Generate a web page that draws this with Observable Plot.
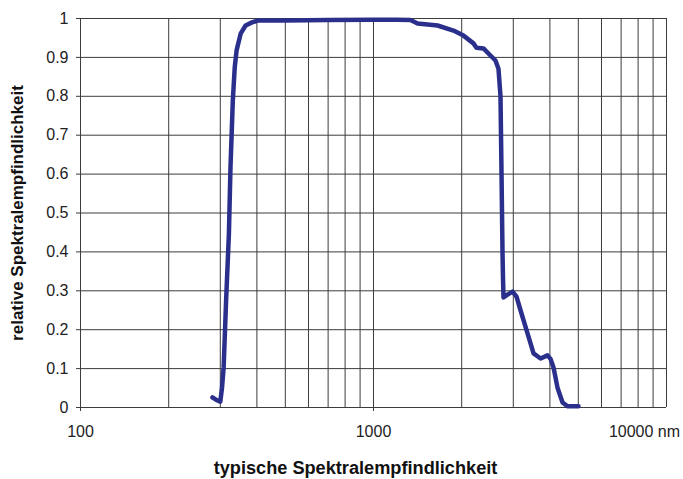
<!DOCTYPE html>
<html>
<head>
<meta charset="utf-8">
<script src="https://cdn.jsdelivr.net/npm/d3@7"></script>
<script src="https://cdn.jsdelivr.net/npm/@observablehq/plot@0.6"></script>
<style>
  html, body { margin: 0; padding: 0; background: #fff; }
  svg { display: block; }
</style>
</head>
<body>
<div id="chart"></div>
<script>
// Wavelength (nm) and relative spectral sensitivity
const wavelength = [282, 290, 300, 304, 308, 314, 321, 325, 331, 336, 341, 352, 366, 385, 405,
  500, 700, 1000, 1200, 1337, 1414, 1654, 1875, 2028, 2194, 2246, 2373, 2468, 2608, 2670,
  2713, 2735, 2756, 2767, 2778, 2866, 2982, 3077, 3175, 3357, 3517, 3718, 3925, 4020, 4115,
  4246, 4418, 4592, 5008];
const response = [0.026, 0.02, 0.015, 0.05, 0.103, 0.275, 0.447, 0.617, 0.789, 0.874, 0.918, 0.961, 0.982, 0.990, 0.995,
  0.995, 0.996, 0.997, 0.997, 0.996, 0.987, 0.982, 0.969, 0.956, 0.936, 0.925, 0.923, 0.91, 0.892, 0.871,
  0.80, 0.60, 0.40, 0.33, 0.283, 0.29, 0.298, 0.285, 0.25, 0.19, 0.139, 0.126, 0.134, 0.125, 0.103,
  0.051, 0.013, 0.003, 0.003];

const xGrid = [100, 200, 300, 400, 500, 600, 700, 800, 900,
  1000, 2000, 3000, 4000, 5000, 6000, 7000, 8000, 9000, 10000];
const xLabelTicks = [100, 1000];
const xLastTick = [10000];
const xLastLabel = "10000 nm";
const yTicks = [0, 0.1, 0.2, 0.3, 0.4, 0.5, 0.6, 0.7, 0.8, 0.9, 1];
const yTitle = "relative Spektralempfindlichkeit";
const xTitle = "typische Spektralempfindlichkeit";

const data = wavelength.map((w, i) => ({w, r: response[i]}));
const gridColor = "#3c3c3c";
const baseFont = "'Liberation Sans', Arial, sans-serif";

const chart = Plot.plot({
  width: 683,
  height: 479,
  marginLeft: 80,
  marginRight: 17,
  marginTop: 18,
  marginBottom: 72,
  style: {fontFamily: baseFont, fontSize: "16px", color: "#222", background: "#fff", overflow: "visible"},
  x: {type: "log", domain: [100, 10000]},
  y: {domain: [0, 1]},
  marks: [
    Plot.ruleX(xGrid, {stroke: gridColor, strokeWidth: 1}),
    Plot.ruleY(yTicks, {stroke: gridColor, strokeWidth: 1}),
    Plot.axisY({ticks: yTicks, tickSize: 4, tickPadding: 8, tickFormat: d => String(+d.toFixed(1)), label: null, stroke: gridColor}),
    Plot.axisX({ticks: xLabelTicks, tickSize: 4, tickPadding: 14, tickFormat: d => String(d), label: null, stroke: gridColor}),
    Plot.axisX({ticks: xLastTick, tickSize: 0, tickPadding: 18, tickFormat: () => xLastLabel, label: null, dx: -22}),
    Plot.line(data, {x: "w", y: "r", stroke: "#2b2f8c", strokeWidth: 4.5, strokeLinejoin: "round", strokeLinecap: "round"}),
    Plot.text([yTitle], {text: d => d, frameAnchor: "left", textAnchor: "middle", lineAnchor: "middle", rotate: -90, dx: -63, fontWeight: "bold", fontSize: 17, fontFamily: baseFont, fill: "#111"}),
    Plot.text([xTitle], {text: d => d, frameAnchor: "bottom", textAnchor: "middle", lineAnchor: "middle", dx: -18, dy: 60, fontWeight: "bold", fontSize: 19, fontFamily: baseFont, fill: "#111"})
  ]
});
document.getElementById("chart").appendChild(chart);
// condense the bold titles to the narrow look of the reference
chart.querySelectorAll("text").forEach(t => {
  if (t.textContent === yTitle || t.textContent === xTitle) {
    const target = t.textContent === yTitle ? 256 : 284;
    const w = t.getComputedTextLength();
    const s = target / w;
    const tr = t.getAttribute("transform") || "";
    t.setAttribute("transform", tr + ` scale(${s},1)`);
    if (t.hasAttribute("x")) t.setAttribute("x", +t.getAttribute("x") / s);
  }
});
</script>
</body>
</html>
